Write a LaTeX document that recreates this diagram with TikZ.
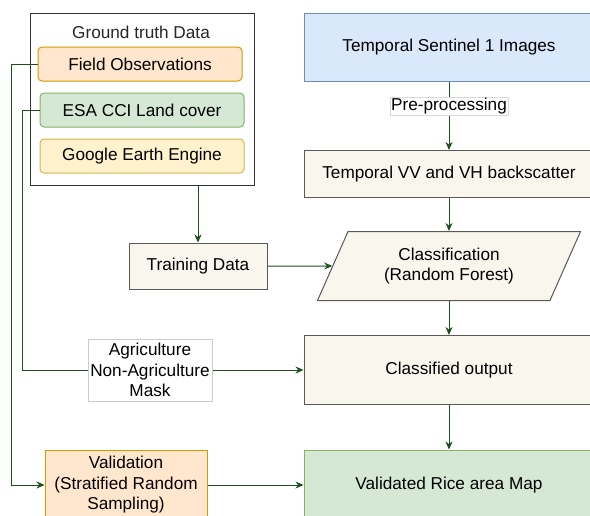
\documentclass[tikz,border=0pt]{standalone}
\usepackage{fontspec}
\setmainfont{Liberation Sans}
\usetikzlibrary{arrows.meta,shapes.geometric}
\definecolor{linegreen}{RGB}{30,80,30}
\definecolor{bluefill}{HTML}{DAE8FC}
\definecolor{blueline}{HTML}{6C8EBF}
\definecolor{beigefill}{HTML}{F9F7ED}
\definecolor{orangefill}{HTML}{FFE6CC}
\definecolor{orangeline}{HTML}{D79B00}
\definecolor{greenfill}{HTML}{D5E8D4}
\definecolor{greenline}{HTML}{82B366}
\definecolor{yellowfill}{HTML}{FFF2CC}
\definecolor{yellowline}{HTML}{D6B656}
\tikzset{
    box/.style = {draw=black!65, fill=beigefill, line width=1pt, align=center,
        inner sep=2pt, font=\fontsize{17.2}{20.5}\selectfont},
    source/.style = {box, rounded corners=4pt, minimum width=204pt, minimum height=34pt},
    flow/.style = {draw=linegreen, line width=1pt, -{Stealth[length=8pt,width=7pt]}},
    link/.style = {draw=linegreen, line width=1pt},
}
\begin{document}
    \begin{tikzpicture}[x=1pt, y=-1pt]
        \useasboundingbox (0,0) rectangle (590,515);
        \clip (0,0) rectangle (590,515);
        % ground truth group
        \begin{scope}
            \node[box, fill=white, draw=black!80, minimum width=224pt, minimum height=172pt] (gt) at (142,99) {};
            \node[font=\fontsize{17.2}{20.5}\selectfont, text=black!85] (gttitle) at (141,32) {Ground truth Data};
            \node[source, fill=orangefill, draw=orangeline] (field) at (140,64) {Field Observations};
            \node[source, fill=greenfill, draw=greenline] (esa) at (142,110) {ESA CCI Land cover};
            \node[source, fill=yellowfill, draw=yellowline] (gee) at (142,156) {Google Earth Engine};
        \end{scope}
        % main column
        \begin{scope}[every node/.style={box, minimum width=290pt}]
            \node[fill=bluefill, draw=blueline, minimum height=68pt] (s1) at (449,47) {Temporal Sentinel 1 Images};
            \node[minimum height=47pt] (vv) at (449,174) {Temporal VV and VH backscatter};
            \node[minimum height=69pt] (cout) at (449,370) {Classified output};
            \node[fill=greenfill, draw=greenline, minimum height=70pt] (map) at (449,485) {Validated Rice area Map};
        \end{scope}
        \node[box, trapezium, trapezium left angle=53, trapezium right angle=127,
            trapezium stretches body, minimum width=263pt, minimum height=69pt] (cls) at (449,266)
            {Classification\\(Random Forest)};
        % side inputs
        \node[box, minimum width=138pt, minimum height=46pt] (train) at (198,266) {Training Data};
        \node[box, fill=white, draw=black!20, minimum width=124pt, minimum height=62pt, inner sep=0pt] (mask) at (150,370)
            {Agriculture\\Non-Agriculture\\Mask};
        \node[box, fill=orangefill, draw=orangeline, minimum width=162pt, minimum height=70pt] (valid) at (126,485)
            {Validation\\(Stratified Random\\Sampling)};
        % connectors
        \draw[flow] (s1) -- node[pos=.36, box, fill=white, draw=black!15, line width=.6pt, inner sep=1pt] (pre) {Pre-processing} (vv);
        \draw[flow] (vv) -- (cls);
        \draw[flow] (cls) -- (cout);
        \draw[flow] (cout) -- (map);
        \draw[flow] (gt.south -| train.north) -- (train.north);
        \draw[flow] (train) -- (cls);
        \draw[flow] (field.west) -- ++(-26,0) |- (valid.west);
        \draw[link] (esa.west) -- ++(-17,0) |- (mask.west);
        \draw[flow] (mask.east) -- (mask.east -| cout.west);
        \draw[flow] (valid.east) -- (valid.east -| map.west);
    \end{tikzpicture}
\end{document}
